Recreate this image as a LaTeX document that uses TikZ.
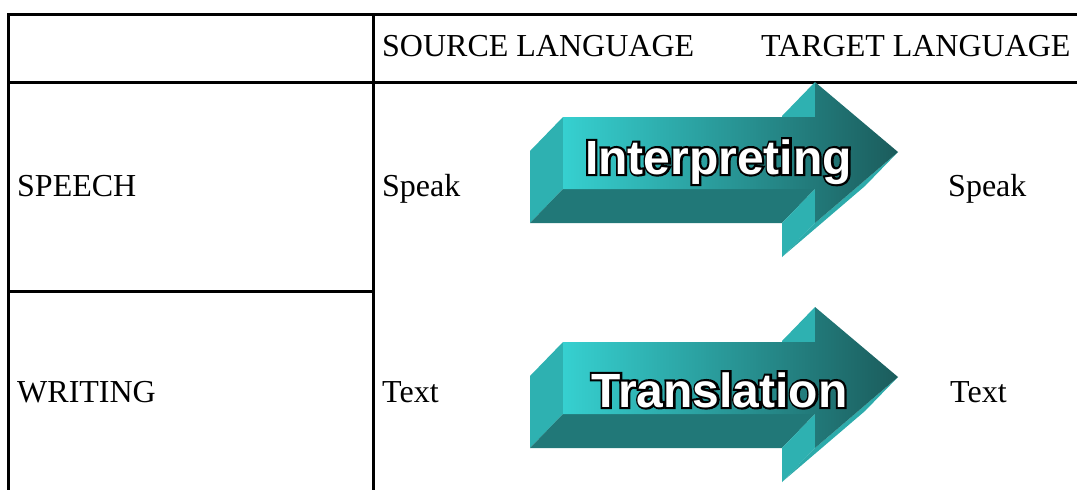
\documentclass[tikz,border=0pt]{standalone}
\usepackage{fontspec}
\setmainfont{Liberation Serif}
\newfontfamily\arrowfont{Liberation Sans Bold}
\newfontfamily\arrowoutline{Liberation Sans Bold}[FakeBold=9]
\definecolor{tlight}{HTML}{36D0D0}
\definecolor{tdark}{HTML}{1B5C5C}
\definecolor{tside}{HTML}{2EB1B1}
\definecolor{tbottom}{HTML}{217878}
\definecolor{tedge}{HTML}{2DABAB}
\tikzset{
  rule/.style={line width=3pt,line cap=rect},
  celltext/.style={font=\fontsize{32}{36}\selectfont,anchor=base west,inner sep=0pt},
  arrowtext/.style={font=\arrowfont\fontsize{48}{52}\selectfont,text=white,anchor=base,inner sep=0pt},
  arrowline/.style={font=\arrowoutline\fontsize{48}{52}\selectfont,text=black,anchor=base,inner sep=0pt},
  sideface/.style={fill=tside},
  bottomface/.style={fill=tbottom},
  edgeface/.style={fill=tedge},
}
\newcommand\teelarrow[1]{%
  \begin{scope}[shift={(0,#1)}]
    \fill[sideface] (815,82) -- (782,116) -- (782,151) -- (815,117) -- cycle;
    \fill[sideface] (563,117) -- (530,151) -- (530,223) -- (563,189) -- cycle;
    \fill[bottomface] (563,189) -- (530,223) -- (782,223) -- (815,189) -- cycle;
    \fill[sideface] (815,189) -- (782,223) -- (782,257) -- (815,223) -- cycle;
    \fill[edgeface] (815,223) -- (898,152) -- (865,186) -- (782,257) -- cycle;
    \shade[left color=tlight,right color=tdark]
      (563,117) -- (815,117) -- (815,82) -- (898,152) -- (815,223) -- (815,189) -- (563,189) -- cycle;
  \end{scope}}
\begin{document}
\begin{tikzpicture}[x=1pt,y=-1pt]
\useasboundingbox (0,0) rectangle (1077,490);
% table rules
\draw[rule] (8,14) -- (1077,14);
\draw[rule] (8,82) -- (1077,82);
\draw[rule] (8,14) -- (8,490);
\draw[rule] (373,14) -- (373,490);
\draw[rule] (8,291) -- (373,291);
% cell texts
\node[celltext] (src) at (382,56) {SOURCE LANGUAGE};
\node[celltext] (tgt) at (761,56) {TARGET LANGUAGE};
\node[celltext] (speech) at (17,196) {SPEECH};
\node[celltext] (writing) at (17,402) {WRITING};
\node[celltext] (speakA) at (382,196) {Speak};
\node[celltext] (textA) at (382,402) {Text};
\node[celltext] (speakB) at (948,196) {Speak};
\node[celltext] (textB) at (950,402) {Text};
% arrows
\teelarrow{0}
\teelarrow{225}
\node[arrowline] (interpO) at (718.5,174) {Interpreting};
\node[arrowtext] (interp) at (718.5,174) {Interpreting};
\node[arrowline] (translO) at (719.5,407) {Translation};
\node[arrowtext] (transl) at (719.5,407) {Translation};
\end{tikzpicture}
\end{document}
